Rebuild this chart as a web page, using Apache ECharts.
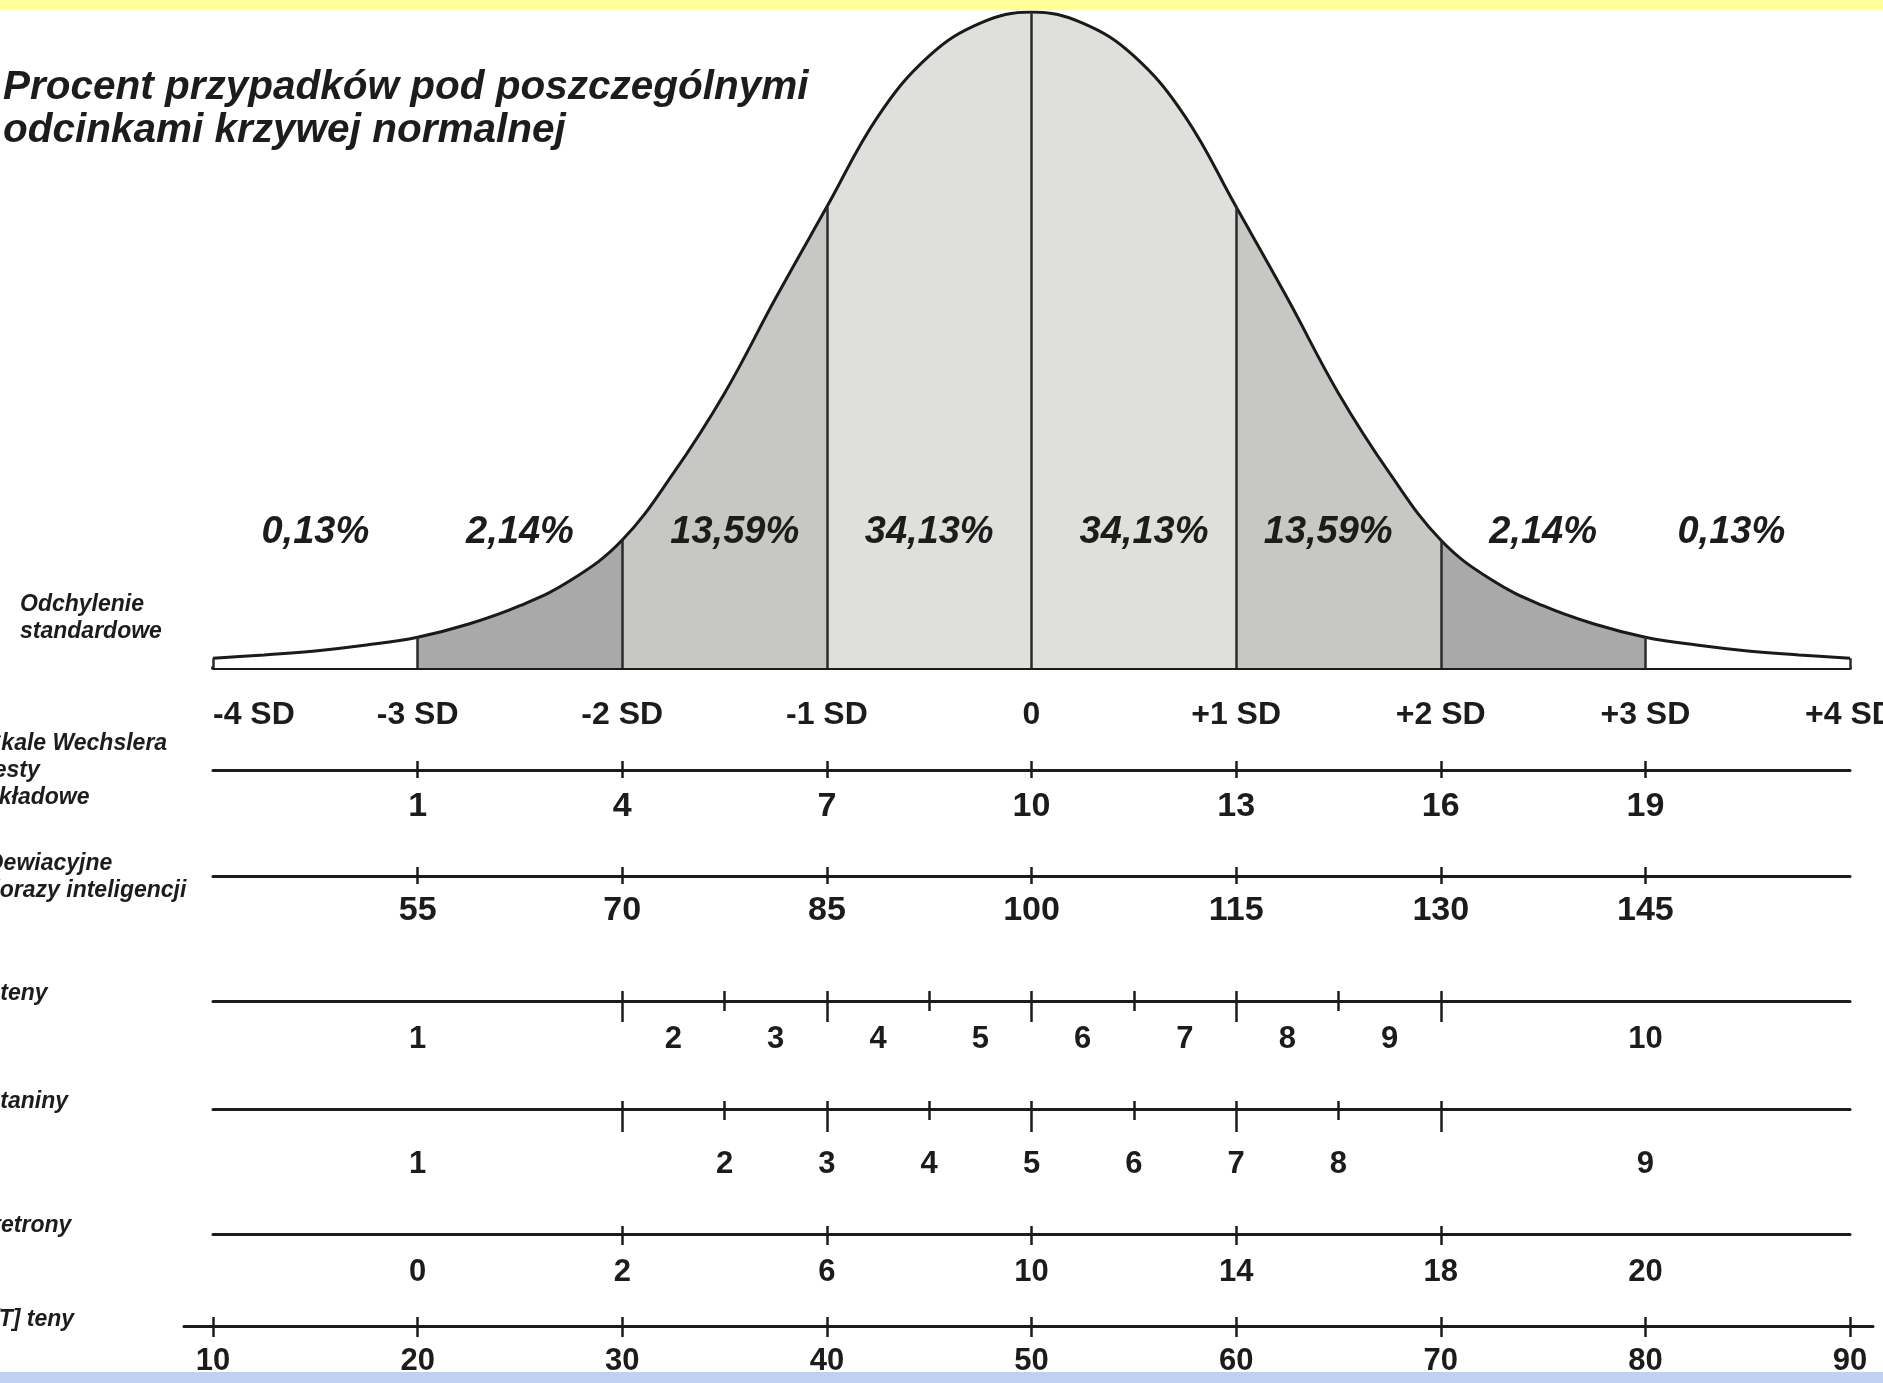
<!DOCTYPE html>
<html>
<head>
<meta charset="utf-8">
<title>Krzywa normalna</title>
<script src="https://cdn.jsdelivr.net/npm/echarts@6/dist/echarts.min.js"></script>
<style>
    html, body { margin: 0; padding: 0; background: #fff; }
    #chart { width: 1883px; height: 1383px; }
</style>
</head>
<body>
<div id="chart"></div>
<script>
// ---- values ----
// curve height at each z (peak = 100)
var curveZ = [-4, -3.75, -3.5, -3.25, -3, -2.75, -2.5, -2.25, -2, -1.75, -1.5, -1.25, -1, -0.75, -0.5, -0.25, 0,
    0.25, 0.5, 0.75, 1, 1.25, 1.5, 1.75, 2, 2.25, 2.5, 2.75, 3, 3.25, 3.5, 3.75, 4];
var curveHeight = [1.5, 2.0, 2.6, 3.5, 4.7, 6.7, 9.5, 13.4, 19.5, 29.7, 41.9, 56.4, 70.3, 84.1, 93.3, 98.3, 100,
    98.3, 93.3, 84.1, 70.3, 56.4, 41.9, 29.7, 19.5, 13.4, 9.5, 6.7, 4.7, 3.5, 2.6, 2.0, 1.5];

var sdTicks = [-4, -3, -2, -1, 0, 1, 2, 3, 4];
var sdLabels = ['-4 SD', '-3 SD', '-2 SD', '-1 SD', '0', '+1 SD', '+2 SD', '+3 SD', '+4 SD'];

var bandEdges = [-4, -3, -2, -1, 0, 1, 2, 3, 4];
var bandColors = ['#ffffff', '#a9a9a9', '#c7c7c3', '#dfdfdc', '#dfdfdc', '#c7c7c3', '#a9a9a9', '#ffffff'];

var pctLabels = ['0,13%', '2,14%', '13,59%', '34,13%', '34,13%', '13,59%', '2,14%', '0,13%'];
var pctPos = [-3.5, -2.5, -1.45, -0.5, 0.55, 1.45, 2.5, 3.42];

var wechslerTicks = [-3, -2, -1, 0, 1, 2, 3];
var wechslerLabels = ['1', '4', '7', '10', '13', '16', '19'];
var iqLabels = ['55', '70', '85', '100', '115', '130', '145'];

var stenLongTicks = [-2, -1, 0, 1, 2];
var stenShortTicks = [-1.5, -0.5, 0.5, 1.5];
var stenPos = [-3, -1.75, -1.25, -0.75, -0.25, 0.25, 0.75, 1.25, 1.75, 3];
var stenLabels = ['1', '2', '3', '4', '5', '6', '7', '8', '9', '10'];
var stanPos = [-3, -1.5, -1, -0.5, 0, 0.5, 1, 1.5, 3];
var stanLabels = ['1', '2', '3', '4', '5', '6', '7', '8', '9'];

var stetronTicks = [-2, -1, 0, 1, 2];
var stetronPos = [-3, -2, -1, 0, 1, 2, 3];
var stetronLabels = ['0', '2', '6', '10', '14', '18', '20'];

var tTicks = [-4, -3, -2, -1, 0, 1, 2, 3, 4];
var tLabels = ['10', '20', '30', '40', '50', '60', '70', '80', '90'];

var titleText = 'Procent przypadków pod poszczególnymi\nodcinkami krzywej normalnej';
var rowNames = ['Odchylenie\nstandardowe', 'Skale Wechslera\ntesty\nskładowe', 'Dewiacyjne\nilorazy inteligencji',
    'Steny', 'Staniny', 'Stetrony', '[T] teny'];

// ---- layout ----
var INK = '#1c1c1c';
var FONT = '"Liberation Sans", Arial, sans-serif';
var LEFT = 213, RIGHT = 33;
var rowNameXY = [[20, 591], [-14, 730], [-13, 850], [-15, 980], [-15, 1088], [-22, 1212], [-9, 1306]];

function labelAt(pos, labels) {
    return function (v) {
        for (var i = 0; i < pos.length; i++) {
            if (Math.abs(pos[i] - v) < 1e-6) {
                return labels[i];
            }
        }
        return '';
    };
}

function heightAt(z) {
    return curveHeight[curveZ.indexOf(z)];
}

var tickStyle = { color: INK, width: 2.5 };

// one scale row = a flat grid with a bottom axis (line, ticks down, labels),
// a top axis (ticks up) and optionally a second bottom axis (short ticks)
function rowAxes(grid, o) {
    var min = o.min == null ? -4 : o.min;
    var max = o.max == null ? 4 : o.max;
    var axes = [{
        gridIndex: grid, type: 'value', position: 'bottom', min: min, max: max,
        axisLine: { show: true, lineStyle: { color: INK, width: 3 } },
        axisTick: { show: true, customValues: o.down, length: o.downLen, lineStyle: tickStyle },
        axisLabel: {
            customValues: o.labelPos, formatter: labelAt(o.labelPos, o.labels), margin: o.margin,
            fontSize: o.fontSize, fontWeight: 'bold', color: INK, fontFamily: FONT
        },
        splitLine: { show: false }
    }, {
        gridIndex: grid, type: 'value', position: 'top', min: min, max: max,
        axisLine: { show: false },
        axisTick: { show: true, customValues: o.up, length: o.upLen, lineStyle: tickStyle },
        axisLabel: { show: false },
        splitLine: { show: false }
    }];
    if (o.shortDown) {
        axes.push({
            gridIndex: grid, type: 'value', position: 'bottom', min: min, max: max,
            axisLine: { show: false },
            axisTick: { show: true, customValues: o.shortDown, length: o.shortLen, lineStyle: tickStyle },
            axisLabel: { show: false },
            splitLine: { show: false }
        });
    }
    return axes;
}

var rows = [
    { top: 769, down: wechslerTicks, downLen: 8, up: wechslerTicks, upLen: 8,
      labelPos: wechslerTicks, labels: wechslerLabels, margin: 20, fontSize: 34 },
    { top: 875, down: wechslerTicks, downLen: 8, up: wechslerTicks, upLen: 8,
      labelPos: wechslerTicks, labels: iqLabels, margin: 18, fontSize: 34 },
    { top: 1000, down: stenLongTicks, downLen: 21, up: stenLongTicks.concat(stenShortTicks), upLen: 9,
      shortDown: stenShortTicks, shortLen: 10, labelPos: stenPos, labels: stenLabels, margin: 23, fontSize: 31 },
    { top: 1108, down: stenLongTicks, downLen: 23, up: stenLongTicks.concat(stenShortTicks), upLen: 7,
      shortDown: stenShortTicks, shortLen: 11, labelPos: stanPos, labels: stanLabels, margin: 40, fontSize: 31 },
    { top: 1233, down: stetronTicks, downLen: 11, up: stetronTicks, upLen: 7,
      labelPos: stetronPos, labels: stetronLabels, margin: 23, fontSize: 31 },
    { top: 1325, left: 184, right: 10, min: -4.142, max: 4.112, down: tTicks, downLen: 11, up: tTicks, upLen: 8,
      labelPos: tTicks, labels: tLabels, margin: 20, fontSize: 31 }
];

// outerBoundsMode 'none': let the edge labels overflow instead of shrinking the grid
var grids = [{ left: LEFT, right: RIGHT, top: 12, height: 656, outerBoundsMode: 'none' }];
var xAxes = [{
    gridIndex: 0, type: 'value', min: -4, max: 4,
    axisLine: { show: true, lineStyle: { color: '#1a1a1a', width: 4 } },
    axisTick: { show: false },
    axisLabel: {
        customValues: sdTicks, formatter: labelAt(sdTicks, sdLabels), margin: 31,
        alignMinLabel: 'left',
        fontSize: 32, fontWeight: 'bold', color: INK, fontFamily: FONT
    },
    splitLine: { show: false }
}];
var yAxes = [{ gridIndex: 0, type: 'value', min: 0, max: 100, show: false }];

rows.forEach(function (r, i) {
    var g = i + 1;
    grids.push({ left: r.left || LEFT, right: r.right || RIGHT, top: r.top, height: 1, outerBoundsMode: 'none' });
    xAxes = xAxes.concat(rowAxes(g, r));
    yAxes.push({ gridIndex: g, type: 'value', show: false });
});

var curveData = curveZ.map(function (z, i) { return [z, curveHeight[i]]; });

var graphics = [
    { type: 'rect', z: 100, shape: { x: 0, y: 0, width: 1883, height: 10 }, style: { fill: '#ffff99' } },
    { type: 'rect', z: 100, shape: { x: 0, y: 1372, width: 1883, height: 11 }, style: { fill: '#c0d0f2' } },
    { type: 'text', x: 3, y: 66, style: {
        text: titleText, font: 'italic bold 40.5px ' + FONT, fill: INK, lineHeight: 43, verticalAlign: 'top'
    } }
];
rowNames.forEach(function (name, i) {
    graphics.push({ type: 'text', x: rowNameXY[i][0], y: rowNameXY[i][1], style: {
        text: name, font: 'italic bold 23px ' + FONT, fill: INK, lineHeight: 27, verticalAlign: 'top'
    } });
});

var chart = echarts.init(document.getElementById('chart'));

chart.setOption({
    backgroundColor: '#ffffff',
    animation: false,
    grid: grids,
    xAxis: xAxes,
    yAxis: yAxes,
    visualMap: {
        show: false, type: 'piecewise', seriesIndex: 0, dimension: 0,
        pieces: bandColors.map(function (c, i) {
            var p = { gte: bandEdges[i], color: c };
            if (i === bandColors.length - 1) { p.lte = bandEdges[i + 1]; } else { p.lt = bandEdges[i + 1]; }
            return p;
        })
    },
    graphic: { elements: graphics },
    series: [{
        // shaded bands under the curve
        type: 'line', xAxisIndex: 0, yAxisIndex: 0, data: curveData, smooth: 0.4,
        symbol: 'none', lineStyle: { width: 0 }, areaStyle: { opacity: 1 }, z: 1, silent: true
    }, {
        // curve outline + SD dividers
        type: 'line', xAxisIndex: 0, yAxisIndex: 0, data: curveData, smooth: 0.4,
        symbol: 'none', lineStyle: { color: '#1a1a1a', width: 3 }, z: 3, silent: true,
        markLine: {
            silent: true, symbol: ['none', 'none'], label: { show: false },
            lineStyle: { color: '#2b2b2b', width: 2.5, type: 'solid' },
            data: sdTicks.map(function (z) { return [{ coord: [z, 0] }, { coord: [z, heightAt(z)] }]; })
        }
    }, {
        // percentages
        type: 'scatter', xAxisIndex: 0, yAxisIndex: 0, symbol: 'rect', symbolSize: 0.1, z: 4, silent: true,
        itemStyle: { color: '#ffffff' },
        data: pctPos.map(function (z) { return [z, 20.7]; }),
        label: {
            show: true, position: 'inside', color: INK, opacity: 1, textBorderWidth: 0, fontFamily: FONT,
            fontSize: 38, fontWeight: 'bold', fontStyle: 'italic',
            formatter: function (p) { return pctLabels[p.dataIndex]; }
        }
    }]
});

window.addEventListener('resize', function () {
    chart.resize();
});
</script>
</body>
</html>
